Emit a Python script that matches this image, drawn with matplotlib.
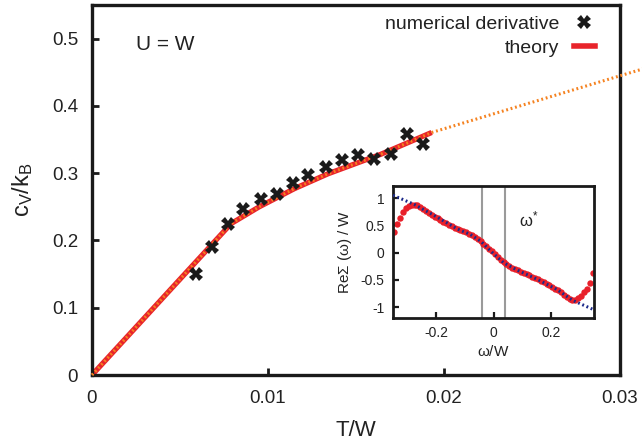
import matplotlib
matplotlib.use("Agg")
import matplotlib.pyplot as plt
from matplotlib.lines import Line2D

plt.rcParams['font.family'] = ['Liberation Sans', 'DejaVu Sans']
plt.rcParams['mathtext.fontset'] = 'custom'
plt.rcParams['mathtext.rm'] = 'Liberation Sans'
plt.rcParams['mathtext.it'] = 'Liberation Sans'

# ---- main data ----
T_num = [0.0059, 0.0068, 0.0077, 0.0086, 0.0096, 0.0105, 0.0114, 0.0123,
         0.0133, 0.0142, 0.0151, 0.0160, 0.0170, 0.0179, 0.0188]
cv_num = [0.150, 0.190, 0.225, 0.247, 0.261, 0.269, 0.285, 0.298,
          0.309, 0.319, 0.327, 0.321, 0.328, 0.358, 0.343]

T_theory = [0.0, 0.0079, 0.0095, 0.0115, 0.0134, 0.0164, 0.0193]
cv_theory = [0.0, 0.225, 0.250, 0.277, 0.299, 0.328, 0.3605]

T_extrap = [0.0, 0.0079, 0.0095, 0.0115, 0.0134, 0.0164, 0.0193, 0.0313]
cv_extrap = [0.0, 0.225, 0.250, 0.277, 0.299, 0.328, 0.3605, 0.455]

xticks = [0, 0.01, 0.02, 0.03]
xticklabels = ['0', '0.01', '0.02', '0.03']
yticks = [0, 0.1, 0.2, 0.3, 0.4, 0.5]
yticklabels = ['0', '0.1', '0.2', '0.3', '0.4', '0.5']

# ---- inset data ----
omega = [-0.345, -0.335, -0.325, -0.315, -0.305, -0.295, -0.285, -0.275, -0.265,
         -0.255, -0.245, -0.235, -0.225, -0.215, -0.205, -0.195, -0.185, -0.175,
         -0.165, -0.155, -0.145, -0.135, -0.125, -0.115, -0.105, -0.095, -0.085,
         -0.075, -0.065, -0.055, -0.045, -0.035, -0.025, -0.015, -0.005,
         0.005, 0.015, 0.025, 0.035, 0.045, 0.055, 0.065, 0.075, 0.085, 0.095,
         0.105, 0.115, 0.125, 0.135, 0.145, 0.155, 0.165, 0.175, 0.185, 0.195,
         0.205, 0.215, 0.225, 0.235, 0.245, 0.255, 0.265, 0.275, 0.285, 0.295,
         0.305, 0.315, 0.325, 0.335, 0.345]
resigma = [0.38, 0.52, 0.64, 0.74, 0.81, 0.85, 0.875, 0.88, 0.865,
           0.835, 0.80, 0.765, 0.73, 0.695, 0.66, 0.63, 0.60, 0.565,
           0.535, 0.505, 0.48, 0.455, 0.43, 0.41, 0.39, 0.37, 0.345,
           0.315, 0.285, 0.25, 0.21, 0.165, 0.115, 0.065, 0.02,
           -0.03, -0.08, -0.13, -0.18, -0.215, -0.25, -0.275, -0.30, -0.325, -0.35,
           -0.37, -0.395, -0.415, -0.44, -0.465, -0.49, -0.52, -0.545, -0.575, -0.60,
           -0.63, -0.66, -0.69, -0.73, -0.77, -0.81, -0.85, -0.875, -0.87, -0.84,
           -0.79, -0.73, -0.66, -0.55, -0.38]
omega_fit = [-0.35, -0.275, -0.2, -0.125, -0.08, -0.045, 0.0, 0.036, 0.082,
             0.152, 0.222, 0.275, 0.35]
resigma_fit = [1.05, 0.88, 0.66, 0.43, 0.33, 0.21, -0.02, -0.19, -0.32,
               -0.49, -0.68, -0.875, -1.05]
omega_star = [-0.04, 0.04]

fig = plt.figure(figsize=(6.42, 4.45), dpi=100)
ax = fig.add_axes([92/642, 70/445, 528/642, 370/445])

red = '#e8242b'
orange = '#f58220'
black = '#1a1a1a'

ax.plot(T_theory, cv_theory, color=red, lw=3.8, solid_capstyle='butt', zorder=2)
ax.plot(T_extrap, cv_extrap, color=orange, lw=2.2, linestyle=(0, (0.6, 0.9)),
        clip_on=False, zorder=3)
ax.plot(T_num, cv_num, linestyle='none', marker='X', markersize=10,
        color=black, markeredgewidth=0, zorder=4)

ax.set_xlim(0, 0.03)
ax.set_ylim(0, 0.55)
ax.set_xticks(xticks)
ax.set_xticklabels(xticklabels)
ax.set_yticks(yticks)
ax.set_yticklabels(yticklabels)
ax.tick_params(direction='in', length=5, width=2, labelsize=13.5, color=black,
               labelcolor='#222222', top=False, right=False)
ax.tick_params(axis='x', pad=11)
ax.tick_params(axis='y', pad=10)
for s in ax.spines.values():
    s.set_linewidth(2.4)
    s.set_color(black)

ax.set_xlabel('T/W', fontsize=16, color='#222222', labelpad=9)
ax.set_ylabel(r'$\mathregular{c_V/k_B}$', fontsize=17, color='#222222', labelpad=12)

ax.text(0.0025, 0.492, 'U = W', fontsize=15, color='#222222', va='center')

handles = [Line2D([], [], linestyle='none', marker='X', markersize=10, color=black,
                  markeredgewidth=0),
           Line2D([], [], color=red, lw=4)]
leg = ax.legend(handles, ['numerical derivative', 'theory'], loc='upper right',
                bbox_to_anchor=(0.953, 0.972), frameon=False, markerfirst=False,
                fontsize=14, handlelength=1.1, handletextpad=0.75,
                labelspacing=0.32, borderpad=0, borderaxespad=0)
for t in leg.get_texts():
    t.set_color('#222222')

# ---- inset ----
ins = fig.add_axes([393/642, (445-318)/445, 201/642, 132/445])
for w in omega_star:
    ins.axvline(w, color='#9a9a9a', lw=1.5, zorder=1)
ins.plot(omega, resigma, linestyle='none', marker='o', markersize=4.6,
         color='#e8202a', markeredgewidth=0, zorder=2)
ins.plot(omega_fit, resigma_fit, color='#1c2a8a', lw=2.2,
         linestyle=(0, (0.6, 0.9)), zorder=3)
ins.set_xlim(-0.35, 0.35)
ins.set_ylim(-1.2, 1.22)
ins.set_xticks([-0.2, 0, 0.2])
ins.set_xticklabels(['-0.2', '0', '0.2'])
ins.set_yticks([-1, -0.5, 0, 0.5, 1])
ins.set_yticklabels(['-1', '-0.5', '0', '0.5', '1'])
ins.tick_params(direction='in', length=4, width=1.6, labelsize=10, color=black,
                labelcolor='#222222', top=False, right=False, pad=6)
for s in ins.spines.values():
    s.set_linewidth(2.0)
    s.set_color(black)
ins.set_xlabel(r'$\mathregular{\omega/W}$', fontsize=11, color='#222222', labelpad=3)
ins.set_ylabel(r'$\mathregular{Re\Sigma\ (\omega)\ /\ W}$', fontsize=11,
               color='#222222', labelpad=5)
ins.text(0.09, 0.6, r'$\mathregular{\omega^{*}}$', fontsize=12, color='#222222',
         va='center')

fig.savefig('out.png', dpi=100)
